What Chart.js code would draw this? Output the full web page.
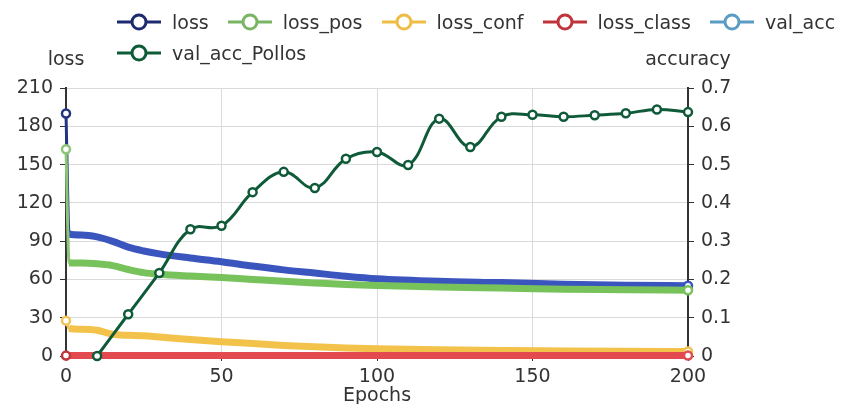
<!DOCTYPE html>
<html>
<head>
<meta charset="utf-8">
<script src="https://cdn.jsdelivr.net/npm/chart.js@4"></script>
<style>
  html, body { margin: 0; padding: 0; background: #fff; }
  #wrap { position: relative; width: 861px; height: 404px; }
  #legend { position: absolute; left: 0; top: 0; width: 861px; font-family: "DejaVu Sans", sans-serif; font-size: 19px; color: #333; }
  .row { position: absolute; left: 117px; height: 24px; display: flex; align-items: center; white-space: nowrap; }
  .item { display: flex; align-items: center; margin-right: 19px; }
  .item svg { margin-right: 11px; }
</style>
</head>
<body>
<div id="wrap">
  <canvas id="c" width="861" height="404"></canvas>
  <div id="legend"></div>
</div>
<script>
// ---- data ----
const lossEpochs = [0, 1, 5, 10, 15, 20, 25, 30, 40, 50, 60, 70, 80, 90, 100, 120, 140, 160, 180, 200];
const loss      = [190, 95.6, 94.8, 93.3, 89.8, 85.3, 82.3, 80.0, 76.8, 73.9, 70.5, 67.5, 65.0, 62.5, 60.5, 58.5, 57.5, 56.3, 55.5, 55.0];
const lossPos   = [162, 73.1, 72.8, 72.2, 70.8, 67.8, 65.3, 64.0, 62.6, 61.5, 60.0, 58.5, 57.2, 56.0, 55.2, 54.0, 53.2, 52.4, 52.0, 51.5];
const lossConf  = [27.7, 21.7, 21.0, 20.2, 17.0, 16.2, 15.8, 14.8, 13.0, 11.2, 9.8, 8.3, 7.2, 6.3, 5.6, 4.8, 4.4, 4.0, 3.7, 3.5];
const lossClass = [0.3, 0.3, 0.3, 0.3, 0.3, 0.3, 0.3, 0.3, 0.3, 0.3, 0.3, 0.3, 0.3, 0.3, 0.3, 0.3, 0.3, 0.3, 0.3, 0.3];
const valAcc    = [];
const accEpochs = [10, 20, 30, 40, 50, 60, 70, 80, 90, 100, 110, 120, 130, 140, 150, 160, 170, 180, 190, 200];
const valAccPollos = [0, 0.109, 0.217, 0.331, 0.34, 0.428, 0.481, 0.439, 0.515, 0.533, 0.499, 0.62, 0.546, 0.625, 0.63, 0.625, 0.629, 0.634, 0.644, 0.637];

const seriesNames  = ['loss', 'loss_pos', 'loss_conf', 'loss_class', 'val_acc', 'val_acc_Pollos'];
const legendColors = ['#1d2b6e', '#7ab565', '#efbd45', '#c0343b', '#5b9cc4', '#0d5b37'];
const bandColors   = ['#3b55bf', '#78c25c', '#f3c24b', '#e24a50', '#5b9cc4', '#0f5a38'];
const thinColors   = ['#23357f', '#8cc47a', '#f0c458', '#c0343b', '#5b9cc4', '#0f5a38'];

const FONT = '"DejaVu Sans", sans-serif';

function pts(xs, ys) { return ys.map((y, i) => ({ x: xs[i], y: y })); }

function lossDataset(idx, values) {
  const n = values.length;
  return {
    label: seriesNames[idx],
    data: pts(lossEpochs, values),
    yAxisID: 'y',
    order: 5 - idx,
    clip: false,
    cubicInterpolationMode: 'monotone',
    borderColor: bandColors[idx],
    borderWidth: 7,
    segment: {
      borderWidth: c => c.p0DataIndex === 0 ? 3 : 7,
      borderColor: c => c.p0DataIndex === 0 ? thinColors[idx] : bandColors[idx]
    },
    pointRadius: c => (c.dataIndex === 0 || c.dataIndex === n - 1) ? 4 : 0,
    pointBackgroundColor: '#fff',
    pointBorderColor: c => c.dataIndex === 0 ? thinColors[idx] : bandColors[idx],
    pointBorderWidth: 2.5
  };
}

const datasets = [
  lossDataset(0, loss),
  lossDataset(1, lossPos),
  lossDataset(2, lossConf),
  lossDataset(3, lossClass),
  {
    label: seriesNames[4], data: pts(accEpochs, valAcc), yAxisID: 'y1', order: 1,
    borderColor: bandColors[4], borderWidth: 3, pointRadius: 4, pointBackgroundColor: '#fff'
  },
  {
    label: seriesNames[5], data: pts(accEpochs, valAccPollos), yAxisID: 'y1', order: 0,
    clip: false, tension: 0.4,
    borderColor: bandColors[5], borderWidth: 3,
    pointRadius: 4, pointBackgroundColor: '#fff', pointBorderColor: bandColors[5], pointBorderWidth: 2.5
  }
];

// ---- HTML legend ----
(function buildLegend() {
  const lg = document.getElementById('legend');
  const rows = [seriesNames.slice(0, 5), seriesNames.slice(5)];
  const tops = [10, 41];
  let k = 0;
  rows.forEach((names, r) => {
    const row = document.createElement('div');
    row.className = 'row';
    row.style.top = tops[r] + 'px';
    names.forEach(name => {
      const col = legendColors[k++];
      const it = document.createElement('div');
      it.className = 'item';
      it.innerHTML = '<svg width="44" height="20" viewBox="0 0 44 20">' +
        '<line x1="0" y1="10" x2="44" y2="10" stroke="' + col + '" stroke-width="3"/>' +
        '<circle cx="22" cy="10" r="7" fill="#fff" stroke="' + col + '" stroke-width="3"/></svg>' +
        '<span>' + name + '</span>';
      row.appendChild(it);
    });
    lg.appendChild(row);
  });
})();

// ---- axis names plugin ----
const axisNames = {
  id: 'axisNames',
  afterDraw(chart) {
    const ctx = chart.ctx, a = chart.chartArea;
    ctx.save();
    ctx.font = '19px ' + FONT;
    ctx.fillStyle = '#333';
    ctx.textAlign = 'center';
    ctx.textBaseline = 'middle';
    ctx.fillText('loss', a.left, 60);
    ctx.fillText('accuracy', a.right, 60);
    ctx.restore();
  }
};

const tickFont = { family: FONT, size: 19 };

new Chart(document.getElementById('c'), {
  type: 'line',
  data: { datasets },
  plugins: [axisNames],
  options: {
    responsive: false,
    animation: false,
    devicePixelRatio: 1,
    layout: { padding: { top: 88, left: 0, right: 0, bottom: 0 } },
    plugins: { legend: { display: false }, tooltip: { enabled: false } },
    scales: {
      x: {
        type: 'linear', min: 0, max: 200,
        ticks: { stepSize: 50, font: tickFont, color: '#333', padding: 5, maxRotation: 0 },
        grid: { color: '#dadada', lineWidth: 1, tickLength: 5, tickColor: '#333' },
        border: { color: '#333', width: 1.5 },
        title: { display: true, text: 'Epochs', font: { family: FONT, size: 19, lineHeight: 0.8 }, color: '#333', padding: 0 },
        afterFit(s) { s.height = 48; }
      },
      y: {
        position: 'left', min: 0, max: 210,
        ticks: { stepSize: 30, font: tickFont, color: '#333', padding: 7 },
        grid: { color: '#dadada', lineWidth: 1, tickLength: 6, tickColor: '#333' },
        border: { color: '#333', width: 2 },
        afterFit(s) { s.width = 66; }
      },
      y1: {
        position: 'right', min: 0, max: 0.7,
        ticks: { stepSize: 0.1, font: tickFont, color: '#333', padding: 7 },
        grid: { drawOnChartArea: false, tickLength: 6, tickColor: '#333' },
        border: { color: '#333', width: 2 },
        afterFit(s) { s.width = 173; }
      }
    }
  }
});
</script>
</body>
</html>
